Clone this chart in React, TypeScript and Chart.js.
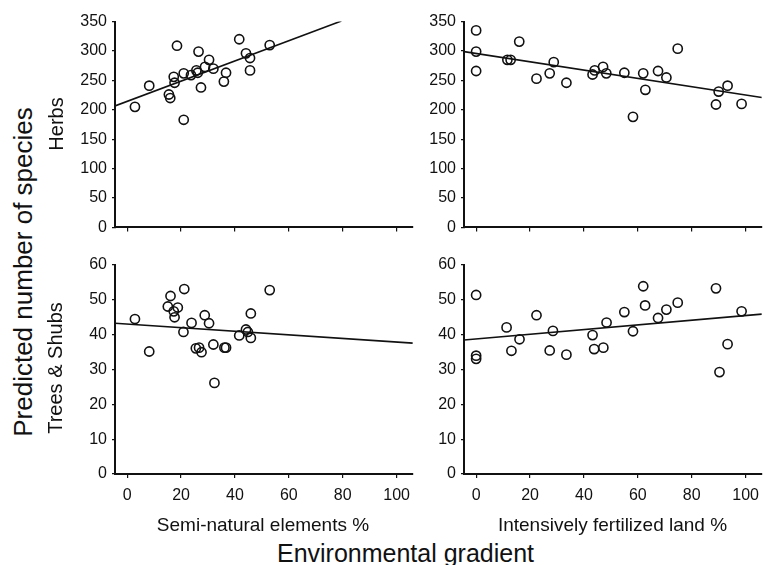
import React, { useEffect, useRef } from "react";
import { Chart, registerables } from "chart.js";
Chart.register(...registerables);

const FONT = "'Liberation Sans', Arial, Helvetica, sans-serif";
const INK = "#111111";

const X_TICKS = [0, 20, 40, 60, 80, 100];
const HERB_Y_TICKS = [0, 50, 100, 150, 200, 250, 300, 350];
const TREE_Y_TICKS = [0, 10, 20, 30, 40, 50, 60];
const X_MIN = -4.5;
const X_MAX = 106;

// Herbs vs semi-natural elements %
const herbsSemiX = [2.9, 8.2, 15.5, 16, 18.5, 17.3, 17.6, 21, 21, 23.7, 25.7, 26.5, 26.2, 27.4, 28.9, 30.4, 32, 35.9, 36.7, 41.6, 44.1, 45.6, 45.6, 52.9];
const herbsSemiY = [205, 241, 226, 220, 309, 256, 246, 183, 262, 259, 267, 299, 263, 238, 273, 285, 270, 248, 263, 320, 296, 288, 267, 310];
const herbsSemiTrendX = [-4.5, 79.5];
const herbsSemiTrendY = [206.5, 351];

// Herbs vs intensively fertilized land %
const herbsFertX = [0, 0, 0, 11.6, 12.8, 16, 22.4, 27.3, 28.8, 33.5, 43.2, 44, 47.1, 48.3, 55, 58.2, 62, 62.8, 67.5, 70.6, 74.8, 89, 90, 93.3, 98.5];
const herbsFertY = [335, 299, 266, 285, 285, 316, 253, 262, 281, 246, 260, 267, 273, 262, 263, 188, 262, 234, 266, 255, 304, 209, 231, 241, 210];
const herbsFertTrendX = [-4.5, 106];
const herbsFertTrendY = [299, 221];

// Trees & shrubs vs semi-natural elements %
const treesSemiX = [2.9, 8.2, 15.1, 16.1, 17.3, 17.6, 18.8, 21.2, 20.9, 23.9, 25.5, 26.7, 27.6, 28.8, 30.4, 32, 32.4, 36.1, 36.7, 41.6, 44.1, 44.8, 45.9, 45.9, 52.9];
const treesSemiY = [44.4, 35.1, 48, 51, 46.6, 44.9, 47.7, 53, 40.7, 43.3, 36, 36.2, 34.9, 45.5, 43.2, 37.1, 26.1, 36.2, 36.2, 39.7, 41.4, 40.7, 39, 46, 52.7];
const treesSemiTrendX = [-4.5, 106];
const treesSemiTrendY = [43.2, 37.5];

// Trees & shrubs vs intensively fertilized land %
const treesFertX = [0, 0, 0, 11.3, 13.1, 16.1, 22.4, 27.3, 28.5, 33.5, 43.2, 43.8, 47.2, 48.4, 55, 58.2, 62, 62.7, 67.5, 70.6, 74.8, 89, 90.3, 93.3, 98.5];
const treesFertY = [51.3, 33.9, 33, 42, 35.3, 38.6, 45.5, 35.4, 41, 34.2, 39.8, 35.8, 36.2, 43.4, 46.4, 40.9, 53.8, 48.3, 44.7, 47.1, 49.1, 53.2, 29.2, 37.2, 46.6];
const treesFertTrendX = [-4.5, 106];
const treesFertTrendY = [38.4, 45.8];

type PanelProps = {
  left: number;
  top: number;
  width: number;
  height: number;
  xs: number[];
  ys: number[];
  trendX: number[];
  trendY: number[];
  yTicks: number[];
  showXLabels: boolean;
  xAxisHeight: number;
};

function Panel(p: PanelProps) {
  const ref = useRef<HTMLCanvasElement>(null);
  useEffect(() => {
    const yMax = p.yTicks[p.yTicks.length - 1];
    const chart = new Chart(ref.current as HTMLCanvasElement, {
      type: "scatter",
      data: {
        datasets: [
          {
            data: p.xs.map((x, i) => ({ x, y: p.ys[i] })),
            pointRadius: 4.6,
            pointHoverRadius: 4.6,
            borderWidth: 1.6,
            borderColor: INK,
            backgroundColor: "rgba(0,0,0,0)",
          },
          {
            data: p.trendX.map((x, i) => ({ x, y: p.trendY[i] })),
            showLine: true,
            pointRadius: 0,
            borderColor: INK,
            borderWidth: 1.6,
          },
        ],
      },
      options: {
        responsive: false,
        animation: false,
        devicePixelRatio: 1,
        events: [],
        layout: { padding: { top: 12, left: 0, right: 0, bottom: 0 } },
        plugins: { legend: { display: false }, tooltip: { enabled: false } },
        scales: {
          x: {
            type: "linear",
            min: X_MIN,
            max: X_MAX,
            afterBuildTicks: (s: any) => {
              s.ticks = X_TICKS.map((v) => ({ value: v }));
            },
            afterFit: (s: any) => {
              s.height = p.xAxisHeight;
            },
            ticks: {
              display: p.showXLabels,
              font: { family: FONT, size: 16 },
              color: INK,
              padding: 8,
              maxRotation: 0,
            },
            grid: {
              display: true,
              drawOnChartArea: false,
              drawTicks: true,
              tickLength: 4,
              color: INK,
              lineWidth: 1.2,
            },
            border: { display: true, color: INK, width: 2 },
          },
          y: {
            type: "linear",
            min: 0,
            max: yMax,
            afterBuildTicks: (s: any) => {
              s.ticks = p.yTicks.map((v) => ({ value: v }));
            },
            afterFit: (s: any) => {
              s.width = 60;
            },
            ticks: {
              font: { family: FONT, size: 16 },
              color: INK,
              padding: 5,
            },
            grid: {
              display: true,
              drawOnChartArea: false,
              drawTicks: true,
              tickLength: 3,
              color: INK,
              lineWidth: 1.2,
            },
            border: { display: true, color: INK, width: 2 },
          },
        },
      },
    } as any);
    return () => chart.destroy();
  }, []);
  return (
    <canvas
      ref={ref}
      width={p.width}
      height={p.height}
      style={{ position: "absolute", left: p.left, top: p.top, width: p.width, height: p.height }}
    />
  );
}

function Label(props: { text: string; cx: number; cy: number; size: number; rotate?: boolean }) {
  return (
    <div
      style={{
        position: "absolute",
        left: props.cx,
        top: props.cy,
        transform: `translate(-50%, -50%)${props.rotate ? " rotate(-90deg)" : ""}`,
        fontFamily: FONT,
        fontSize: props.size,
        lineHeight: 1,
        whiteSpace: "nowrap",
        color: INK,
      }}
    >
      {props.text}
    </div>
  );
}

export default function App() {
  return (
    <div
      style={{
        position: "fixed",
        left: 0,
        top: 0,
        width: 765,
        height: 565,
        overflow: "hidden",
        background: "#fff",
      }}
    >
      <Panel left={55} top={7} width={364} height={235} xs={herbsSemiX} ys={herbsSemiY} trendX={herbsSemiTrendX} trendY={herbsSemiTrendY} yTicks={HERB_Y_TICKS} showXLabels={false} xAxisHeight={12} />
      <Panel left={404} top={7} width={364} height={235} xs={herbsFertX} ys={herbsFertY} trendX={herbsFertTrendX} trendY={herbsFertTrendY} yTicks={HERB_Y_TICKS} showXLabels={false} xAxisHeight={12} />
      <Panel left={55} top={250} width={364} height={274} xs={treesSemiX} ys={treesSemiY} trendX={treesSemiTrendX} trendY={treesSemiTrendY} yTicks={TREE_Y_TICKS} showXLabels={true} xAxisHeight={50} />
      <Panel left={404} top={250} width={364} height={274} xs={treesFertX} ys={treesFertY} trendX={treesFertTrendX} trendY={treesFertTrendY} yTicks={TREE_Y_TICKS} showXLabels={true} xAxisHeight={50} />
      <Label text="Predicted number of species" cx={23} cy={271.5} size={26} rotate />
      <Label text="Herbs" cx={55.5} cy={123.5} size={20} rotate />
      <Label text="Trees & Shubs" cx={55} cy={368} size={20} rotate />
      <Label text="Semi-natural elements %" cx={263} cy={524} size={19} />
      <Label text="Intensively fertilized land %" cx={612.5} cy={524} size={19} />
      <Label text="Environmental gradient" cx={405.5} cy={553} size={25} />
    </div>
  );
}
